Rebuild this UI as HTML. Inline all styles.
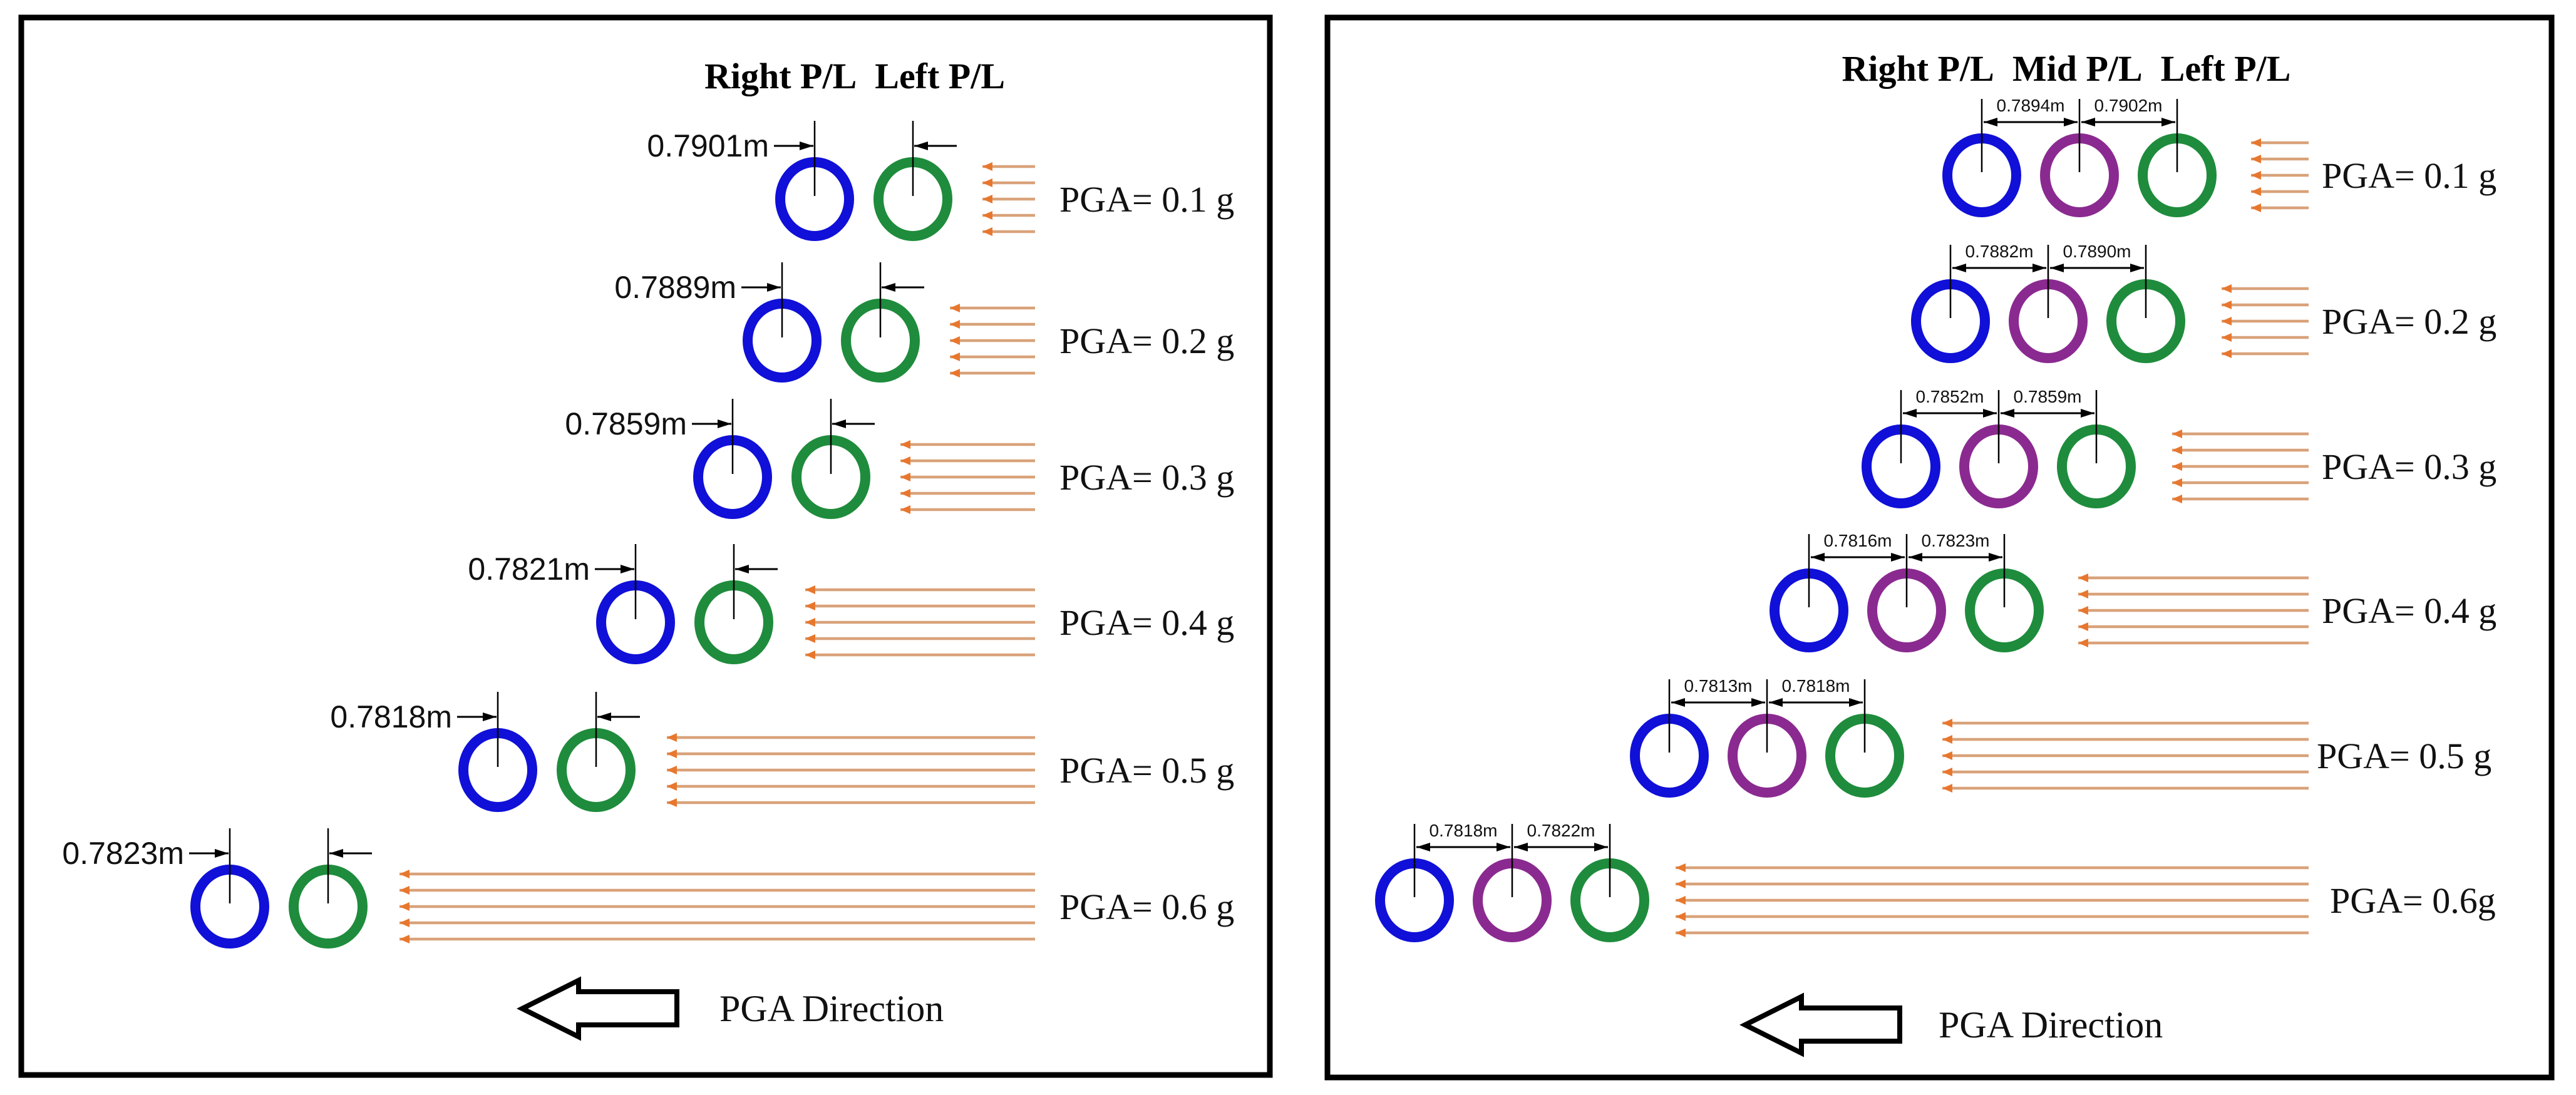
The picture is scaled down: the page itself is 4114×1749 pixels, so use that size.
<!DOCTYPE html>
<html><head><meta charset="utf-8"><style>
html,body{margin:0;padding:0;background:#fff}
svg{display:block}
.t{stroke:#000;stroke-width:2.5}
.d{stroke:#000;stroke-width:3}
.o{stroke:#d9a27a;stroke-width:4.5}
.n{font-family:"Liberation Sans",sans-serif;font-size:50px;fill:#111}
.s{font-family:"Liberation Sans",sans-serif;font-size:28px;fill:#111;text-anchor:middle}
.p{font-family:"Liberation Serif",serif;font-size:58px;fill:#111}
.h{font-family:"Liberation Serif",serif;font-size:58px;font-weight:bold;fill:#000}
.b{fill:none;stroke:#1010d8;stroke-width:16}
.g{fill:none;stroke:#1e8c3c;stroke-width:16}
.m{fill:none;stroke:#8a2a90;stroke-width:16}
</style></head><body>
<svg width="4114" height="1749" viewBox="0 0 4114 1749" xmlns="http://www.w3.org/2000/svg">
<defs>
<marker id="ab" markerUnits="userSpaceOnUse" markerWidth="24" markerHeight="14" refX="22" refY="7" orient="auto-start-reverse"><path d="M0,0 L22,7 L0,14 Z" fill="#000"/></marker>
<marker id="ao" markerUnits="userSpaceOnUse" markerWidth="18" markerHeight="14" refX="16" refY="7" orient="auto"><path d="M0,0 L16,7 L0,14 Z" fill="#e8772e"/></marker>
</defs>
<rect x="34" y="28" width="1994" height="1689" fill="none" stroke="#000" stroke-width="9"/>
<rect x="2120" y="28" width="1955" height="1693" fill="none" stroke="#000" stroke-width="9"/>

<text class="h" x="1365" y="141" text-anchor="middle">Right P/L&#160; Left P/L</text>
<text class="h" x="3300" y="129" text-anchor="middle">Right P/L&#160; Mid P/L&#160; Left P/L</text>

<g transform="translate(0,318)">
<ellipse class="b" cx="1301" cy="0" rx="55" ry="59"/><ellipse class="g" cx="1458" cy="0" rx="55" ry="59"/>
<line class="t" x1="1301" y1="-125" x2="1301" y2="-5"/><line class="t" x1="1458" y1="-125" x2="1458" y2="-5"/>
<line class="d" x1="1236" y1="-85" x2="1299" y2="-85" marker-end="url(#ab)"/>
<line class="d" x1="1528" y1="-85" x2="1460" y2="-85" marker-end="url(#ab)"/>
<text class="n" x="1228" y="-68" text-anchor="end">0.7901m</text>
<line class="o" x1="1653" y1="-52" x2="1569" y2="-52" marker-end="url(#ao)"/>
<line class="o" x1="1653" y1="-26" x2="1569" y2="-26" marker-end="url(#ao)"/>
<line class="o" x1="1653" y1="0" x2="1569" y2="0" marker-end="url(#ao)"/>
<line class="o" x1="1653" y1="26" x2="1569" y2="26" marker-end="url(#ao)"/>
<line class="o" x1="1653" y1="52" x2="1569" y2="52" marker-end="url(#ao)"/>
<text class="p" x="1692" y="20">PGA= 0.1 g</text>
</g>
<g transform="translate(0,544)">
<ellipse class="b" cx="1249" cy="0" rx="55" ry="59"/><ellipse class="g" cx="1406" cy="0" rx="55" ry="59"/>
<line class="t" x1="1249" y1="-125" x2="1249" y2="-5"/><line class="t" x1="1406" y1="-125" x2="1406" y2="-5"/>
<line class="d" x1="1184" y1="-85" x2="1247" y2="-85" marker-end="url(#ab)"/>
<line class="d" x1="1476" y1="-85" x2="1408" y2="-85" marker-end="url(#ab)"/>
<text class="n" x="1176" y="-68" text-anchor="end">0.7889m</text>
<line class="o" x1="1653" y1="-52" x2="1517" y2="-52" marker-end="url(#ao)"/>
<line class="o" x1="1653" y1="-26" x2="1517" y2="-26" marker-end="url(#ao)"/>
<line class="o" x1="1653" y1="0" x2="1517" y2="0" marker-end="url(#ao)"/>
<line class="o" x1="1653" y1="26" x2="1517" y2="26" marker-end="url(#ao)"/>
<line class="o" x1="1653" y1="52" x2="1517" y2="52" marker-end="url(#ao)"/>
<text class="p" x="1692" y="20">PGA= 0.2 g</text>
</g>
<g transform="translate(0,762)">
<ellipse class="b" cx="1170" cy="0" rx="55" ry="59"/><ellipse class="g" cx="1327" cy="0" rx="55" ry="59"/>
<line class="t" x1="1170" y1="-125" x2="1170" y2="-5"/><line class="t" x1="1327" y1="-125" x2="1327" y2="-5"/>
<line class="d" x1="1105" y1="-85" x2="1168" y2="-85" marker-end="url(#ab)"/>
<line class="d" x1="1397" y1="-85" x2="1329" y2="-85" marker-end="url(#ab)"/>
<text class="n" x="1097" y="-68" text-anchor="end">0.7859m</text>
<line class="o" x1="1653" y1="-52" x2="1438" y2="-52" marker-end="url(#ao)"/>
<line class="o" x1="1653" y1="-26" x2="1438" y2="-26" marker-end="url(#ao)"/>
<line class="o" x1="1653" y1="0" x2="1438" y2="0" marker-end="url(#ao)"/>
<line class="o" x1="1653" y1="26" x2="1438" y2="26" marker-end="url(#ao)"/>
<line class="o" x1="1653" y1="52" x2="1438" y2="52" marker-end="url(#ao)"/>
<text class="p" x="1692" y="20">PGA= 0.3 g</text>
</g>
<g transform="translate(0,994)">
<ellipse class="b" cx="1015" cy="0" rx="55" ry="59"/><ellipse class="g" cx="1172" cy="0" rx="55" ry="59"/>
<line class="t" x1="1015" y1="-125" x2="1015" y2="-5"/><line class="t" x1="1172" y1="-125" x2="1172" y2="-5"/>
<line class="d" x1="950" y1="-85" x2="1013" y2="-85" marker-end="url(#ab)"/>
<line class="d" x1="1242" y1="-85" x2="1174" y2="-85" marker-end="url(#ab)"/>
<text class="n" x="942" y="-68" text-anchor="end">0.7821m</text>
<line class="o" x1="1653" y1="-52" x2="1286" y2="-52" marker-end="url(#ao)"/>
<line class="o" x1="1653" y1="-26" x2="1286" y2="-26" marker-end="url(#ao)"/>
<line class="o" x1="1653" y1="0" x2="1286" y2="0" marker-end="url(#ao)"/>
<line class="o" x1="1653" y1="26" x2="1286" y2="26" marker-end="url(#ao)"/>
<line class="o" x1="1653" y1="52" x2="1286" y2="52" marker-end="url(#ao)"/>
<text class="p" x="1692" y="20">PGA= 0.4 g</text>
</g>
<g transform="translate(0,1230)">
<ellipse class="b" cx="795" cy="0" rx="55" ry="59"/><ellipse class="g" cx="952" cy="0" rx="55" ry="59"/>
<line class="t" x1="795" y1="-125" x2="795" y2="-5"/><line class="t" x1="952" y1="-125" x2="952" y2="-5"/>
<line class="d" x1="730" y1="-85" x2="793" y2="-85" marker-end="url(#ab)"/>
<line class="d" x1="1022" y1="-85" x2="954" y2="-85" marker-end="url(#ab)"/>
<text class="n" x="722" y="-68" text-anchor="end">0.7818m</text>
<line class="o" x1="1653" y1="-52" x2="1065" y2="-52" marker-end="url(#ao)"/>
<line class="o" x1="1653" y1="-26" x2="1065" y2="-26" marker-end="url(#ao)"/>
<line class="o" x1="1653" y1="0" x2="1065" y2="0" marker-end="url(#ao)"/>
<line class="o" x1="1653" y1="26" x2="1065" y2="26" marker-end="url(#ao)"/>
<line class="o" x1="1653" y1="52" x2="1065" y2="52" marker-end="url(#ao)"/>
<text class="p" x="1692" y="20">PGA= 0.5 g</text>
</g>
<g transform="translate(0,1448)">
<ellipse class="b" cx="367" cy="0" rx="55" ry="59"/><ellipse class="g" cx="524" cy="0" rx="55" ry="59"/>
<line class="t" x1="367" y1="-125" x2="367" y2="-5"/><line class="t" x1="524" y1="-125" x2="524" y2="-5"/>
<line class="d" x1="302" y1="-85" x2="365" y2="-85" marker-end="url(#ab)"/>
<line class="d" x1="594" y1="-85" x2="526" y2="-85" marker-end="url(#ab)"/>
<text class="n" x="294" y="-68" text-anchor="end">0.7823m</text>
<line class="o" x1="1653" y1="-52" x2="638" y2="-52" marker-end="url(#ao)"/>
<line class="o" x1="1653" y1="-26" x2="638" y2="-26" marker-end="url(#ao)"/>
<line class="o" x1="1653" y1="0" x2="638" y2="0" marker-end="url(#ao)"/>
<line class="o" x1="1653" y1="26" x2="638" y2="26" marker-end="url(#ao)"/>
<line class="o" x1="1653" y1="52" x2="638" y2="52" marker-end="url(#ao)"/>
<text class="p" x="1692" y="20">PGA= 0.6 g</text>
</g>
<path d="M834,1611 L924,1566 L924,1584 L1081,1584 L1081,1637 L924,1637 L924,1656 Z" fill="none" stroke="#000" stroke-width="8" stroke-linejoin="miter"/>
<text class="p" x="1149" y="1631" style="font-size:60px">PGA Direction</text>

<g transform="translate(0,280)">
<ellipse class="b" cx="3165" cy="0" rx="55" ry="59"/><ellipse class="m" cx="3321" cy="0" rx="55" ry="59"/><ellipse class="g" cx="3477" cy="0" rx="55" ry="59"/>
<line class="t" x1="3165" y1="-122" x2="3165" y2="-5"/><line class="t" x1="3321" y1="-122" x2="3321" y2="-5"/><line class="t" x1="3477" y1="-122" x2="3477" y2="-5"/>
<line class="d" x1="3168" y1="-85" x2="3318" y2="-85" marker-start="url(#ab)" marker-end="url(#ab)"/>
<line class="d" x1="3324" y1="-85" x2="3474" y2="-85" marker-start="url(#ab)" marker-end="url(#ab)"/>
<text class="s" x="3243" y="-102">0.7894m</text><text class="s" x="3399" y="-102">0.7902m</text>
<line class="o" x1="3687" y1="-52" x2="3595" y2="-52" marker-end="url(#ao)"/>
<line class="o" x1="3687" y1="-26" x2="3595" y2="-26" marker-end="url(#ao)"/>
<line class="o" x1="3687" y1="0" x2="3595" y2="0" marker-end="url(#ao)"/>
<line class="o" x1="3687" y1="26" x2="3595" y2="26" marker-end="url(#ao)"/>
<line class="o" x1="3687" y1="52" x2="3595" y2="52" marker-end="url(#ao)"/>
<text class="p" x="3708" y="20">PGA= 0.1 g</text>
</g>
<g transform="translate(0,513)">
<ellipse class="b" cx="3115" cy="0" rx="55" ry="59"/><ellipse class="m" cx="3271" cy="0" rx="55" ry="59"/><ellipse class="g" cx="3427" cy="0" rx="55" ry="59"/>
<line class="t" x1="3115" y1="-122" x2="3115" y2="-5"/><line class="t" x1="3271" y1="-122" x2="3271" y2="-5"/><line class="t" x1="3427" y1="-122" x2="3427" y2="-5"/>
<line class="d" x1="3118" y1="-85" x2="3268" y2="-85" marker-start="url(#ab)" marker-end="url(#ab)"/>
<line class="d" x1="3274" y1="-85" x2="3424" y2="-85" marker-start="url(#ab)" marker-end="url(#ab)"/>
<text class="s" x="3193" y="-102">0.7882m</text><text class="s" x="3349" y="-102">0.7890m</text>
<line class="o" x1="3687" y1="-52" x2="3548" y2="-52" marker-end="url(#ao)"/>
<line class="o" x1="3687" y1="-26" x2="3548" y2="-26" marker-end="url(#ao)"/>
<line class="o" x1="3687" y1="0" x2="3548" y2="0" marker-end="url(#ao)"/>
<line class="o" x1="3687" y1="26" x2="3548" y2="26" marker-end="url(#ao)"/>
<line class="o" x1="3687" y1="52" x2="3548" y2="52" marker-end="url(#ao)"/>
<text class="p" x="3708" y="20">PGA= 0.2 g</text>
</g>
<g transform="translate(0,745)">
<ellipse class="b" cx="3036" cy="0" rx="55" ry="59"/><ellipse class="m" cx="3192" cy="0" rx="55" ry="59"/><ellipse class="g" cx="3348" cy="0" rx="55" ry="59"/>
<line class="t" x1="3036" y1="-122" x2="3036" y2="-5"/><line class="t" x1="3192" y1="-122" x2="3192" y2="-5"/><line class="t" x1="3348" y1="-122" x2="3348" y2="-5"/>
<line class="d" x1="3039" y1="-85" x2="3189" y2="-85" marker-start="url(#ab)" marker-end="url(#ab)"/>
<line class="d" x1="3195" y1="-85" x2="3345" y2="-85" marker-start="url(#ab)" marker-end="url(#ab)"/>
<text class="s" x="3114" y="-102">0.7852m</text><text class="s" x="3270" y="-102">0.7859m</text>
<line class="o" x1="3687" y1="-52" x2="3469" y2="-52" marker-end="url(#ao)"/>
<line class="o" x1="3687" y1="-26" x2="3469" y2="-26" marker-end="url(#ao)"/>
<line class="o" x1="3687" y1="0" x2="3469" y2="0" marker-end="url(#ao)"/>
<line class="o" x1="3687" y1="26" x2="3469" y2="26" marker-end="url(#ao)"/>
<line class="o" x1="3687" y1="52" x2="3469" y2="52" marker-end="url(#ao)"/>
<text class="p" x="3708" y="20">PGA= 0.3 g</text>
</g>
<g transform="translate(0,975)">
<ellipse class="b" cx="2889" cy="0" rx="55" ry="59"/><ellipse class="m" cx="3045" cy="0" rx="55" ry="59"/><ellipse class="g" cx="3201" cy="0" rx="55" ry="59"/>
<line class="t" x1="2889" y1="-122" x2="2889" y2="-5"/><line class="t" x1="3045" y1="-122" x2="3045" y2="-5"/><line class="t" x1="3201" y1="-122" x2="3201" y2="-5"/>
<line class="d" x1="2892" y1="-85" x2="3042" y2="-85" marker-start="url(#ab)" marker-end="url(#ab)"/>
<line class="d" x1="3048" y1="-85" x2="3198" y2="-85" marker-start="url(#ab)" marker-end="url(#ab)"/>
<text class="s" x="2967" y="-102">0.7816m</text><text class="s" x="3123" y="-102">0.7823m</text>
<line class="o" x1="3687" y1="-52" x2="3319" y2="-52" marker-end="url(#ao)"/>
<line class="o" x1="3687" y1="-26" x2="3319" y2="-26" marker-end="url(#ao)"/>
<line class="o" x1="3687" y1="0" x2="3319" y2="0" marker-end="url(#ao)"/>
<line class="o" x1="3687" y1="26" x2="3319" y2="26" marker-end="url(#ao)"/>
<line class="o" x1="3687" y1="52" x2="3319" y2="52" marker-end="url(#ao)"/>
<text class="p" x="3708" y="20">PGA= 0.4 g</text>
</g>
<g transform="translate(0,1207)">
<ellipse class="b" cx="2666" cy="0" rx="55" ry="59"/><ellipse class="m" cx="2822" cy="0" rx="55" ry="59"/><ellipse class="g" cx="2978" cy="0" rx="55" ry="59"/>
<line class="t" x1="2666" y1="-122" x2="2666" y2="-5"/><line class="t" x1="2822" y1="-122" x2="2822" y2="-5"/><line class="t" x1="2978" y1="-122" x2="2978" y2="-5"/>
<line class="d" x1="2669" y1="-85" x2="2819" y2="-85" marker-start="url(#ab)" marker-end="url(#ab)"/>
<line class="d" x1="2825" y1="-85" x2="2975" y2="-85" marker-start="url(#ab)" marker-end="url(#ab)"/>
<text class="s" x="2744" y="-102">0.7813m</text><text class="s" x="2900" y="-102">0.7818m</text>
<line class="o" x1="3687" y1="-52" x2="3102" y2="-52" marker-end="url(#ao)"/>
<line class="o" x1="3687" y1="-26" x2="3102" y2="-26" marker-end="url(#ao)"/>
<line class="o" x1="3687" y1="0" x2="3102" y2="0" marker-end="url(#ao)"/>
<line class="o" x1="3687" y1="26" x2="3102" y2="26" marker-end="url(#ao)"/>
<line class="o" x1="3687" y1="52" x2="3102" y2="52" marker-end="url(#ao)"/>
<text class="p" x="3700" y="20">PGA= 0.5 g</text>
</g>
<g transform="translate(0,1438)">
<ellipse class="b" cx="2259" cy="0" rx="55" ry="59"/><ellipse class="m" cx="2415" cy="0" rx="55" ry="59"/><ellipse class="g" cx="2571" cy="0" rx="55" ry="59"/>
<line class="t" x1="2259" y1="-122" x2="2259" y2="-5"/><line class="t" x1="2415" y1="-122" x2="2415" y2="-5"/><line class="t" x1="2571" y1="-122" x2="2571" y2="-5"/>
<line class="d" x1="2262" y1="-85" x2="2412" y2="-85" marker-start="url(#ab)" marker-end="url(#ab)"/>
<line class="d" x1="2418" y1="-85" x2="2568" y2="-85" marker-start="url(#ab)" marker-end="url(#ab)"/>
<text class="s" x="2337" y="-102">0.7818m</text><text class="s" x="2493" y="-102">0.7822m</text>
<line class="o" x1="3687" y1="-52" x2="2676" y2="-52" marker-end="url(#ao)"/>
<line class="o" x1="3687" y1="-26" x2="2676" y2="-26" marker-end="url(#ao)"/>
<line class="o" x1="3687" y1="0" x2="2676" y2="0" marker-end="url(#ao)"/>
<line class="o" x1="3687" y1="26" x2="2676" y2="26" marker-end="url(#ao)"/>
<line class="o" x1="3687" y1="52" x2="2676" y2="52" marker-end="url(#ao)"/>
<text class="p" x="3721" y="20">PGA= 0.6g</text>
</g>
<path d="M2787,1637 L2877,1592 L2877,1610 L3034,1610 L3034,1663 L2877,1663 L2877,1682 Z" fill="none" stroke="#000" stroke-width="8" stroke-linejoin="miter"/>
<text class="p" x="3096" y="1657" style="font-size:60px">PGA Direction</text>
</svg>
</body></html>
